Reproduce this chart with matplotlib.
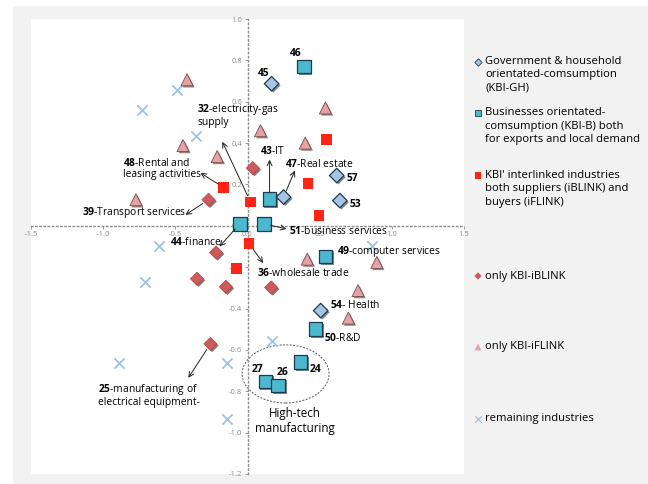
import matplotlib
matplotlib.use("Agg")
import matplotlib.pyplot as plt
import matplotlib.patheffects as pe
from matplotlib.patches import Ellipse, Rectangle
import numpy as np

plt.rcParams['font.family'] = ['Open Sans', 'DejaVu Sans']
plt.rcParams['mathtext.fontset'] = 'custom'
plt.rcParams['mathtext.bf'] = 'Open Sans:bold'
plt.rcParams['mathtext.rm'] = 'Open Sans'

# ---- data ----
# Government & household orientated consumption (KBI-GH)
gh_x = [0.167, 0.618, 0.640, 0.250, 0.507]
gh_y = [0.687, 0.243, 0.122, 0.139, -0.410]
gh_ids = ['45', '57', '53', '47', '54']

# Businesses orientated consumption (KBI-B)
b_x = [0.390, 0.153, -0.053, 0.113, 0.542, 0.472, 0.368, 0.125, 0.213]
b_y = [0.770, 0.129, 0.010, 0.010, -0.148, -0.500, -0.659, -0.753, -0.772]
b_ids = ['46', '43', '44', '51', '49', '50', '24', '27', '26']

# KBI' interlinked industries
link_x = [-0.165, 0.021, 0.420, 0.546, 0.495, -0.076, 0.010]
link_y = [0.185, 0.115, 0.206, 0.416, 0.050, -0.205, -0.086]

# only KBI-iBLINK
bl_x = [-0.270, 0.037, -0.218, -0.350, -0.150, 0.164, -0.257]
bl_y = [0.126, 0.279, -0.129, -0.256, -0.295, -0.298, -0.571]

# only KBI-iFLINK
fl_x = [-0.419, -0.447, -0.210, -0.773, 0.090, 0.400, 0.540, 0.414, 0.896, 0.766, 0.699]
fl_y = [0.706, 0.388, 0.335, 0.126, 0.460, 0.400, 0.570, -0.161, -0.177, -0.313, -0.446]

# remaining industries
rem_x = [-0.488, -0.731, -0.356, -0.611, -0.708, -0.889, -0.141, -0.141, 0.167, 0.860]
rem_y = [0.658, 0.561, 0.432, -0.097, -0.274, -0.664, -0.661, -0.935, -0.556, -0.097]

x_ticks = [-1.5, -1.0, -0.5, 0.0, 0.5, 1.0, 1.5]
y_ticks = [1.0, 0.8, 0.6, 0.4, 0.2, 0.0, -0.2, -0.4, -0.6, -0.8, -1.0, -1.2]

legend_labels = ["Government & household\norientated-comsumption\n(KBI-GH)",
                 "Businesses orientated-\ncomsumption (KBI-B) both\nfor exports and local demand",
                 "KBI' interlinked industries\nboth suppliers (iBLINK) and\nbuyers (iFLINK)",
                 "only KBI-iBLINK",
                 "only KBI-iFLINK",
                 "remaining industries"]

# ---- figure ----
fig = plt.figure(figsize=(6.48, 4.84), dpi=100)
fig.patches.append(Rectangle((13 / 648, 0), 1 - 13 / 648, 1 - 6 / 484,
                             transform=fig.transFigure, facecolor='#f2f2f2',
                             edgecolor='none', zorder=-10))

ax = fig.add_axes([31 / 648, 10 / 484, 433 / 648, 455 / 484])
ax.set_facecolor('white')
ax.set_xlim(-1.5, 1.5)
ax.set_ylim(-1.2, 1.0)

for s in ['top', 'right']:
    ax.spines[s].set_visible(False)
for s in ['left', 'bottom']:
    ax.spines[s].set_position(('data', 0))
    ax.spines[s].set_linestyle((0, (1, 2)))
    ax.spines[s].set_color('#8c8c8c')
    ax.spines[s].set_linewidth(1.0)
ax.set_xticks(x_ticks)
ax.set_yticks(y_ticks)
ax.set_xticklabels([f"{v:.1f}" for v in x_ticks])
ax.set_yticklabels([f"{v:.1f}" for v in y_ticks])
ax.tick_params(labelsize=5.5, colors='#8c8c8c', length=2, width=0.6, pad=2)

shadow = [pe.SimplePatchShadow(offset=(1.2, -1.2), alpha=0.6), pe.Normal()]

ax.scatter(rem_x, rem_y, marker='x', s=55, color='#9dc3e6', linewidths=1.3, zorder=3)
ax.scatter(fl_x, fl_y, marker='^', s=75, color='#e6a3a3', edgecolors='#7a4b4b',
           linewidths=0.6, zorder=3, path_effects=shadow)
ax.scatter(bl_x, bl_y, marker='D', s=45, color='#cf5a5a', edgecolors='#b04545',
           linewidths=0.5, zorder=3, path_effects=shadow)
ax.scatter(link_x, link_y, marker='s', s=60, color='#ff2414', edgecolors='none',
           zorder=3)
ax.scatter(b_x, b_y, marker='s', s=95, color='#4bb8cf', edgecolors='#1e3b4f',
           linewidths=0.9, zorder=4, path_effects=shadow)
ax.scatter(gh_x, gh_y, marker='D', s=55, color='#a6c4e4', edgecolors='#1e3b4f',
           linewidths=0.9, zorder=4, path_effects=shadow)

# labelled industries: (text, text x, text y, arrow start, arrow head)
fs = 7.4
notes = [
    (r"$\bf{32}$-electricity-gas" + "\nsupply", -0.347, 0.535, (0.021, 0.115), (-0.174, 0.406)),
    (r"$\bf{48}$-Rental and" + "\nleasing activities", -0.860, 0.276, (-0.165, 0.185), (-0.326, 0.256)),
    (r"$\bf{39}$-Transport services", -1.146, 0.063, (-0.270, 0.126), (-0.430, 0.053)),
    (r"$\bf{44}$-finance", -0.535, -0.076, (-0.053, 0.010), (-0.194, -0.100)),
    (r"$\bf{43}$-IT", 0.090, 0.360, (0.153, 0.129), (0.153, 0.320)),
    (r"$\bf{47}$-Real estate", 0.257, 0.300, (0.250, 0.139), (0.328, 0.267)),
    (r"$\bf{51}$-business services", 0.287, -0.023, (0.113, 0.010), (0.270, -0.015)),
    (r"$\bf{49}$-computer services", 0.623, -0.124, None, None),
    (r"$\bf{36}$-wholesale trade", 0.0625, -0.226, (0.010, -0.086), (0.109, -0.180)),
    (r"$\bf{54}$- Health", 0.572, -0.385, None, None),
    (r"$\bf{50}$-R&D", 0.530, -0.543, None, None),
    (r"$\bf{25}$-manufacturing of" + "\nelectrical equipment-", -1.037, -0.818, (-0.257, -0.571), (-0.410, -0.735)),
]
for txt, tx, ty, start, head in notes:
    ax.text(tx, ty, txt, fontsize=fs, ha='left', va='center', linespacing=1.05, zorder=6)
    if start is not None:
        ax.annotate('', xy=head, xytext=start,
                    arrowprops=dict(arrowstyle='->', lw=0.7, color='#222222',
                                    shrinkA=5, shrinkB=0, mutation_scale=9), zorder=5)

num_labels = [('46', 0.333, 0.835), ('45', 0.113, 0.738), ('57', 0.727, 0.227),
              ('53', 0.750, 0.105), ('27', 0.072, -0.696), ('26', 0.240, -0.709),
              ('24', 0.472, -0.696)]
for t, tx, ty in num_labels:
    ax.text(tx, ty, t, fontsize=fs, fontweight='bold', ha='center', va='center', zorder=6)

ax.add_patch(Ellipse((0.264, -0.716), 0.602, 0.281, fill=False, edgecolor='#555555',
                     linestyle=(0, (2, 1.5)), linewidth=0.7, zorder=2))
ax.text(0.326, -0.945, "High-tech\nmanufacturing", fontsize=8.4, ha='center', va='center',
        linespacing=1.2, zorder=6)

# ---- legend drawn at the right ----
leg_y = [75, 126, 189, 276, 347, 419]
leg_style = [dict(marker='D', s=14, color='#a6c4e4', edgecolors='#1e3b4f', linewidths=0.6),
             dict(marker='s', s=24, color='#4bb8cf', edgecolors='#1e3b4f', linewidths=0.6),
             dict(marker='s', s=24, color='#ff2414', edgecolors='none'),
             dict(marker='D', s=14, color='#cf5a5a', edgecolors='none'),
             dict(marker='^', s=24, color='#e6a3a3', edgecolors='none'),
             dict(marker='x', s=22, color='#9dc3e6', linewidths=0.9)]
lax = fig.add_axes([0, 0, 1, 1], facecolor='none')
lax.set_xlim(0, 648)
lax.set_ylim(484, 0)
lax.axis('off')
for lab, yy, st in zip(legend_labels, leg_y, leg_style):
    n = lab.count('\n')
    first = yy - n * 13.5 / 2
    lax.scatter([478], [first], **st)
    lax.text(485, yy, lab, fontsize=8.1, ha='left', va='center', linespacing=1.3)

fig.savefig("out.png", dpi=100)
